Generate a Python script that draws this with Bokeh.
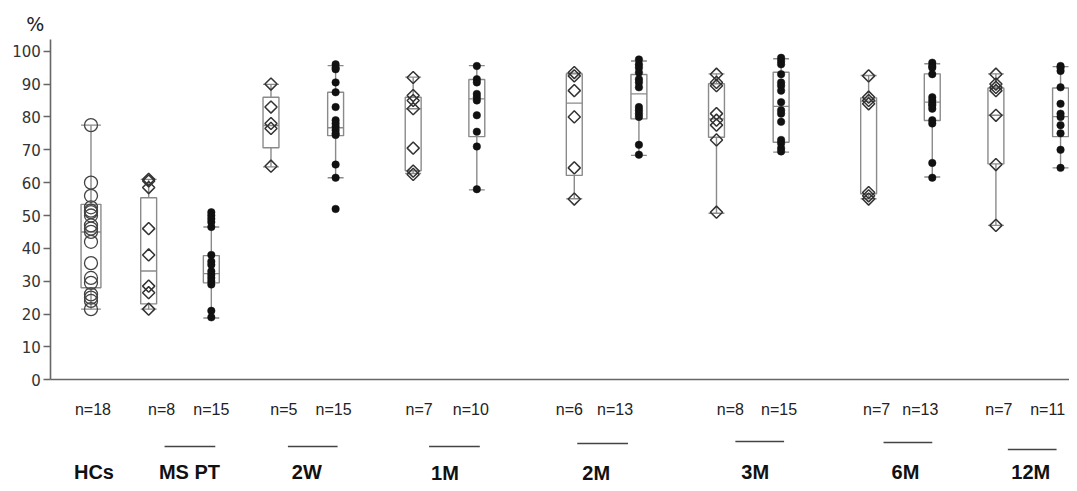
from bokeh.plotting import figure
from bokeh.models import Range1d, LinearAxis, FixedTicker, ColumnDataSource
from bokeh.core.properties import value
from bokeh.embed import file_html
from bokeh.resources import INLINE
import math

# ---------------- data ----------------
groups = ["HCs", "MS PT", "2W", "1M", "2M", "3M", "6M", "12M"]
n_labels = ["n=18", "n=8", "n=15", "n=5", "n=15", "n=7", "n=10", "n=6", "n=13",
            "n=8", "n=15", "n=7", "n=13", "n=7", "n=11"]
y_ticks = [0, 10, 20, 30, 40, 50, 60, 70, 80, 90, 100]

hcs = [77.5, 60, 56, 52.5, 51.5, 51, 50, 47, 46, 45, 42, 35.5, 31, 29.5, 26, 25, 24, 21.5]
mspt_dia = [61, 60.5, 58.5, 46, 38, 28.5, 26.5, 21.5]
mspt_dot = [51, 50, 49, 48, 46.5, 38, 36, 35, 33, 32, 31, 30, 29, 21, 19]
w2_dia = [90, 83, 78, 76.5, 65]
w2_dot = [96, 95, 94.5, 90.5, 87.5, 83, 79, 78, 77, 76, 75, 74.5, 65.5, 61.5, 52]
m1_dia = [92, 86.5, 85, 82.5, 70.5, 63.5, 62.5]
m1_dot = [95.5, 91.5, 90.5, 87, 86, 85, 80.5, 75.5, 71, 58]
m2_dia = [93.5, 92.5, 88, 80, 64.5, 55]
m2_dot = [97.5, 96, 95, 93.5, 91.5, 90.5, 89, 83, 82, 81, 80, 71.5, 68.5]
m3_dia = [93, 90.5, 89.5, 81, 79, 77.5, 73, 51]
m3_dot = [98, 97, 96, 93, 90.5, 89.5, 88, 84.5, 82, 81, 78.5, 73, 72, 70.5, 69.5]
m6_dia = [92.5, 86, 85, 84, 57, 56, 55]
m6_dot = [96.5, 95.5, 95, 93, 86, 85, 84, 83.5, 82.5, 79, 78, 66, 61.5]
m12_dia = [93, 90, 89, 88, 80.5, 65.5, 47]
m12_dot = [95.5, 95, 94, 89, 84, 81, 80, 77.5, 75, 70, 64.5]

series = [hcs, mspt_dia, mspt_dot, w2_dia, w2_dot, m1_dia, m1_dot, m2_dia, m2_dot,
          m3_dia, m3_dot, m6_dia, m6_dot, m12_dia, m12_dot]
kinds = ["circle"] + ["diamond", "dot"] * 7

# box statistics as drawn
whisker_lo = [21.5, 21.5, 18.8, 64.8, 61.5, 62.8, 57.8, 55.1, 68.3, 50.7, 69.3, 55.1, 61.7, 47.0, 64.5]
q1 = [28.0, 23.1, 29.5, 70.6, 74.3, 63.6, 74.0, 62.2, 79.4, 73.8, 72.3, 56.6, 78.9, 65.7, 74.0]
median = [45.0, 33.1, 32.3, 77.4, 76.7, 82.5, 85.5, 84.2, 87.0, 79.4, 83.2, 84.8, 84.5, 80.5, 80.1]
q3 = [53.4, 55.4, 37.8, 86.0, 87.5, 86.0, 91.4, 93.1, 92.9, 90.1, 93.6, 85.8, 93.1, 88.8, 88.8]
whisker_hi = [77.5, 61.0, 46.5, 89.9, 95.6, 92.1, 95.6, 93.3, 97.0, 93.1, 97.7, 92.6, 96.2, 93.1, 95.3]

# ---------------- layout (reference pixel units) ----------------
BOX_X = [91, 149, 212, 272, 337, 415, 479, 577, 642, 720, 785, 873, 937, 1001, 1066]
BOX_W = [20] + [16] * 14
N_X = [93, 162, 212, 285, 335, 421, 473, 572, 618, 734, 783, 881, 925, 1004, 1053]
LINE_X0 = [165, 289, 431, 580, 739, 888, 1013]
LINE_X1 = [216, 339, 482, 631, 788, 937, 1062]
LINE_Y_PX = [446, 446, 446, 443, 441, 442, 449]
GROUP_X = [94, 190, 308, 447, 599, 759, 910, 1036]
GROUP_MID_PX = [471, 471, 471, 472, 472, 471, 471, 471]

Y0_PX, PX_PER_UNIT = 379.3, 3.286


def v(py):
    return (Y0_PX - py) / PX_PER_UNIT


W, H = 1069, 483
p = figure(width=W, height=H, output_backend="svg", toolbar_location=None,
           x_axis_type=None, y_axis_type=None,
           x_range=Range1d(0, 1075), y_range=Range1d(v(H), v(0)),
           min_border=0, min_border_left=0, min_border_right=0,
           min_border_top=0, min_border_bottom=0)
p.outline_line_color = None
p.background_fill_color = "white"
p.border_fill_color = "white"

# axes
yax = LinearAxis(fixed_location=50.7, ticker=FixedTicker(ticks=y_ticks), bounds=(0, v(39.3)))
yax.axis_line_color = "#666666"
yax.axis_line_width = 1.6
yax.major_tick_line_color = "#666666"
yax.major_tick_line_width = 1.4
yax.major_tick_out = 7
yax.major_tick_in = 0
yax.minor_tick_line_color = None
yax.major_label_standoff = 3
yax.major_label_text_font = "DejaVu Sans"
yax.major_label_text_font_size = "15px"
yax.major_label_text_color = "#333333"
p.add_layout(yax, "left")

xax = LinearAxis(fixed_location=0, ticker=FixedTicker(ticks=[]), bounds=(50.7, 1075))
xax.axis_line_color = "#666666"
xax.axis_line_width = 1.6
xax.major_tick_line_color = None
xax.minor_tick_line_color = None
xax.major_label_text_font_size = "0px"
p.add_layout(xax, "below")

line_col = "#8a8a8a"
box_src = ColumnDataSource(dict(x=BOX_X, w=BOX_W, lo=whisker_lo, q1=q1, med=median,
                                q3=q3, hi=whisker_hi,
                                x0=[x - w / 2 for x, w in zip(BOX_X, BOX_W)],
                                x1=[x + w / 2 for x, w in zip(BOX_X, BOX_W)]))
# whiskers
p.segment(x0="x", y0="lo", x1="x", y1="q1", source=box_src, line_color=line_col, line_width=1.4)
p.segment(x0="x", y0="q3", x1="x", y1="hi", source=box_src, line_color=line_col, line_width=1.4)
# caps
p.segment(x0="x0", y0="lo", x1="x1", y1="lo", source=box_src, line_color=line_col, line_width=1.4)
p.segment(x0="x0", y0="hi", x1="x1", y1="hi", source=box_src, line_color=line_col, line_width=1.4)
# boxes
p.vbar(x="x", width="w", bottom="q1", top="q3", source=box_src, fill_color=None,
       line_color=line_col, line_width=1.4)
p.segment(x0="x0", y0="med", x1="x1", y1="med", source=box_src, line_color=line_col, line_width=1.4)

# points
for bx, vals, kind in zip(BOX_X, series, kinds):
    xs = [bx] * len(vals)
    if kind == "circle":
        p.scatter(xs, vals, marker="circle", size=13, fill_color=None,
                  line_color="#444444", line_width=1.3)
    elif kind == "diamond":
        p.scatter(xs, vals, marker="square", angle=math.pi / 4, size=8.6, fill_color=None,
                  line_color="#333333", line_width=1.5)
    else:
        p.scatter(xs, vals, marker="circle", size=7.5, fill_color="#111111",
                  line_color="#111111", line_width=0.5)

# "%" label
p.text(x=[35], y=[v(23)], text=["%"], text_font=value("DejaVu Sans"), text_font_size="19px",
       text_align="center", text_baseline="middle", text_color="#222222")

# n= labels
p.text(x=N_X, y=[v(409)] * len(N_X), text=n_labels, text_font=value("Liberation Sans"),
       text_font_size="16px", text_align="center", text_baseline="middle", text_color="#222222")

# short lines under paired groups
p.segment(x0=LINE_X0, y0=[v(py) for py in LINE_Y_PX], x1=LINE_X1, y1=[v(py) for py in LINE_Y_PX],
          line_color="#444444", line_width=1.5)

# group labels
p.text(x=GROUP_X, y=[v(py) for py in GROUP_MID_PX], text=groups,
       text_font=value("Liberation Sans"), text_font_style="bold", text_font_size="20px",
       text_align="center", text_baseline="middle", text_color="#111111")

open("out.html", "w").write(file_html(p, INLINE))
